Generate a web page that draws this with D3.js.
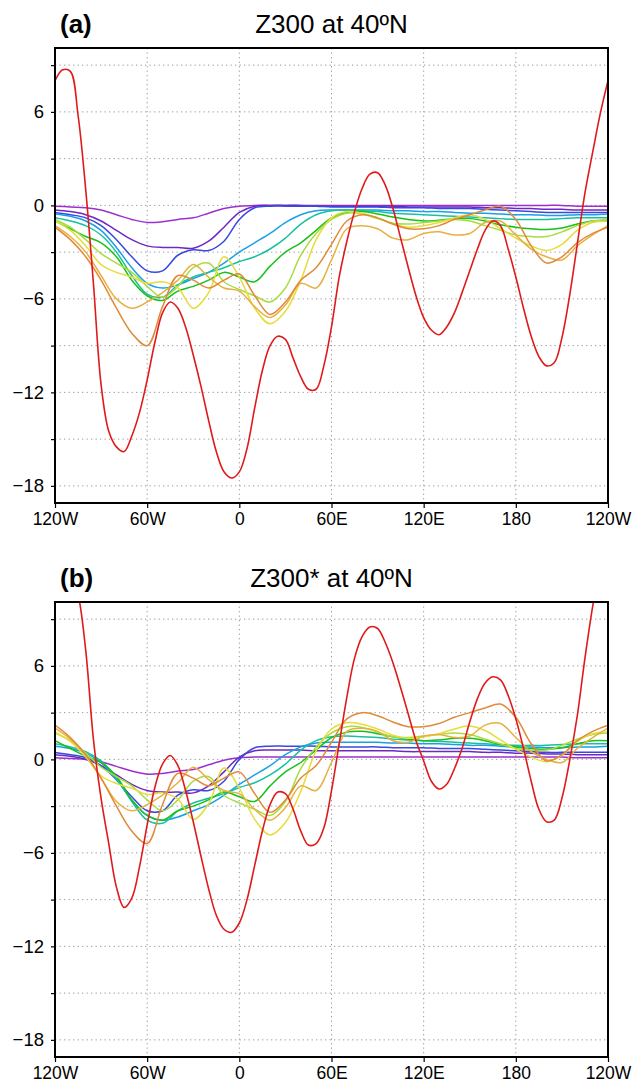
<!DOCTYPE html>
<html><head><meta charset="utf-8">
<script src="https://cdn.jsdelivr.net/npm/d3@7"></script>
<style>html,body{margin:0;padding:0;background:#fff;}svg{display:block;}</style>
</head><body>
<svg id="chart" width="634" height="1088"></svg>
<script>
// ---------------- DATA ----------------
const lon10 = d3.range(-120, 241, 10);   // 37 longitudes
const lon5  = d3.range(-120, 241, 5);    // 73 longitudes (red curve)
const xTickValues = [-120, -60, 0, 60, 120, 180, 240];
const xTickLabels = ["120W", "60W", "0", "60E", "120E", "180", "120W"];
const yTickValues = [-18, -12, -6, 0, 6];
const yTickLabels = ["−18", "−12", "−6", "0", "6"];
const panelLabels = ["(a)", "(b)"];
const panelTitles = ["Z300 at 40ºN", "Z300* at 40ºN"];
const seriesColors = ["#9b30d0", "#7028c4", "#3848e0", "#18a0e8", "#18c0a0", "#18c018", "#a8dc40", "#e6dc3c", "#e8b040", "#e08a38"];
const redColor = "#e01a1a";

// Panel (a): Z300
const a_purple = [-0.05,-0.1,-0.15,-0.3,-0.6,-0.9,-1.1,-1.05,-0.9,-0.8,-0.5,-0.2,-0.05,0,0,0,0,0,0,0,0,0,0,0,0,0,0,0,0,0,0,0,0,0,-0.05,-0.05,-0.05];
const a_violet = [-0.3,-0.4,-0.6,-1.0,-1.6,-2.2,-2.6,-2.7,-2.7,-2.75,-2.3,-1.4,-0.45,-0.05,0,0,0,-0.05,-0.05,-0.05,-0.05,-0.05,-0.05,-0.1,-0.1,-0.1,-0.1,-0.1,-0.15,-0.15,-0.2,-0.2,-0.25,-0.25,-0.3,-0.3,-0.3];
const a_blue   = [-0.45,-0.6,-0.8,-1.3,-2.2,-3.3,-4.2,-4.2,-3.2,-2.85,-2.9,-2.3,-0.9,-0.15,-0.05,-0.05,-0.05,-0.05,-0.1,-0.1,-0.1,-0.1,-0.15,-0.15,-0.15,-0.2,-0.2,-0.2,-0.25,-0.3,-0.35,-0.4,-0.45,-0.45,-0.45,-0.45,-0.45];
const a_sky    = [-0.55,-0.7,-1.0,-1.6,-2.7,-4.0,-5.0,-5.3,-5.1,-4.7,-4.3,-3.7,-3.0,-2.4,-1.8,-1.1,-0.6,-0.35,-0.3,-0.3,-0.3,-0.3,-0.35,-0.35,-0.4,-0.4,-0.45,-0.5,-0.5,-0.55,-0.6,-0.6,-0.65,-0.65,-0.6,-0.6,-0.55];
const a_teal   = [-0.8,-1.0,-1.3,-1.9,-3.0,-4.5,-5.7,-5.9,-5.1,-4.6,-4.3,-4.0,-3.6,-3.3,-2.8,-2.1,-1.2,-0.6,-0.35,-0.3,-0.35,-0.4,-0.5,-0.55,-0.6,-0.65,-0.7,-0.75,-0.8,-0.85,-0.9,-0.9,-0.9,-0.85,-0.8,-0.8,-0.8];
const a_green  = [-1.0,-1.5,-2.0,-2.4,-3.3,-4.8,-5.8,-6.1,-5.5,-5.2,-4.8,-4.3,-4.6,-4.9,-3.9,-3.0,-2.4,-1.6,-0.8,-0.45,-0.4,-0.55,-0.75,-0.9,-1.0,-0.95,-0.85,-0.85,-1.0,-1.25,-1.4,-1.5,-1.55,-1.45,-1.2,-1.0,-1.0];
const a_ygreen = [-0.9,-1.4,-2.2,-3.1,-3.7,-4.3,-5.2,-5.9,-5.2,-4.0,-3.7,-4.9,-5.4,-5.8,-6.2,-5.3,-3.2,-1.8,-0.9,-0.5,-0.55,-0.85,-1.15,-1.2,-1.1,-1.0,-0.9,-1.0,-1.3,-1.6,-1.9,-2.0,-2.0,-1.7,-1.3,-1.0,-0.9];
const a_yellow = [-1.0,-1.6,-2.6,-3.8,-4.3,-4.6,-5.0,-4.9,-5.3,-6.6,-5.6,-3.3,-4.6,-6.6,-7.6,-6.8,-4.8,-2.2,-0.8,-0.4,-0.5,-0.8,-1.2,-1.4,-1.3,-1.1,-0.8,-0.6,-0.9,-1.5,-2.1,-2.6,-2.9,-2.5,-1.6,-1.1,-1.0];
const a_gold   = [-1.3,-2.0,-3.0,-4.5,-6.0,-6.6,-6.2,-5.6,-4.8,-3.8,-4.6,-5.3,-5.5,-6.5,-7.2,-6.4,-5.0,-5.3,-3.5,-1.5,-1.3,-1.5,-2.1,-2.2,-1.8,-1.7,-1.9,-1.8,-1.1,-1.0,-1.9,-2.8,-3.3,-3.5,-2.6,-1.9,-1.3];
const a_orange = [-1.4,-2.2,-3.3,-4.8,-6.6,-8.2,-9.0,-6.5,-4.5,-4.8,-5.3,-4.8,-4.4,-5.8,-7.0,-6.2,-4.8,-4.0,-2.5,-1.0,-0.6,-0.8,-1.2,-1.5,-1.5,-1.3,-0.9,-0.6,-0.3,-0.05,-0.9,-2.6,-3.7,-3.3,-2.4,-1.8,-1.4];
const a_red = [8.0,8.7,8.6,5.8,1.0,-5.0,-11.5,-14.5,-15.5,-15.8,-14.8,-13.3,-11.2,-8.8,-6.9,-6.2,-6.6,-7.8,-9.6,-11.6,-13.8,-15.8,-17.1,-17.5,-17.1,-15.6,-13.0,-10.6,-9.0,-8.4,-8.6,-9.8,-11.0,-11.8,-11.8,-10.3,-7.8,-4.6,-2.3,-0.4,1.1,2.0,2.1,1.3,-0.2,-2.1,-4.0,-5.8,-7.2,-8.0,-8.3,-7.8,-6.9,-5.6,-4.2,-2.8,-1.6,-1.0,-1.3,-2.8,-4.6,-6.6,-8.4,-9.7,-10.3,-10.1,-8.5,-5.8,-2.5,0.8,3.4,5.9,8.0];

// Panel (b): Z300* (zonal deviation)
const b_purple = [0.1,0.05,0,-0.15,-0.45,-0.75,-0.95,-0.9,-0.75,-0.65,-0.35,-0.05,0.1,0.15,0.15,0.15,0.15,0.15,0.15,0.15,0.15,0.15,0.15,0.15,0.15,0.15,0.15,0.15,0.15,0.15,0.15,0.15,0.15,0.15,0.1,0.1,0.1];
const b_violet = [0.3,0.2,0,-0.4,-1.0,-1.6,-2.0,-2.1,-2.1,-2.15,-1.7,-0.8,0.15,0.55,0.6,0.6,0.6,0.55,0.55,0.55,0.55,0.55,0.55,0.5,0.5,0.5,0.5,0.5,0.45,0.45,0.4,0.4,0.35,0.35,0.3,0.3,0.3];
const b_blue   = [0.45,0.3,0.1,-0.4,-1.3,-2.4,-3.3,-3.3,-2.3,-1.95,-2.0,-1.4,0,0.75,0.85,0.85,0.85,0.85,0.8,0.8,0.8,0.8,0.75,0.75,0.75,0.7,0.7,0.7,0.65,0.6,0.55,0.5,0.45,0.45,0.45,0.45,0.45];
const b_sky    = [0.85,0.7,0.4,-0.2,-1.3,-2.6,-3.6,-3.9,-3.7,-3.3,-2.9,-2.3,-1.6,-1.0,-0.4,0.3,0.8,1.05,1.1,1.1,1.1,1.1,1.05,1.05,1.0,1.0,0.95,0.9,0.9,0.85,0.8,0.8,0.75,0.75,0.8,0.8,0.85];
const b_teal   = [1.0,0.8,0.5,-0.1,-1.2,-2.7,-3.9,-4.1,-3.3,-2.8,-2.5,-2.2,-1.8,-1.5,-1.0,-0.3,0.6,1.2,1.45,1.5,1.45,1.4,1.3,1.25,1.2,1.15,1.1,1.05,1.0,0.95,0.9,0.9,0.9,0.95,1.0,1.0,1.0];
const b_green  = [1.2,0.7,0.2,-0.2,-1.1,-2.6,-3.6,-3.9,-3.3,-3.0,-2.6,-2.1,-2.4,-2.7,-1.7,-0.8,-0.2,0.6,1.4,1.75,1.8,1.65,1.45,1.3,1.2,1.25,1.35,1.35,1.2,0.95,0.8,0.7,0.65,0.75,1.0,1.2,1.2];
const b_ygreen = [1.7,1.2,0.4,-0.5,-1.1,-1.7,-2.6,-3.3,-2.6,-1.4,-1.1,-2.3,-2.8,-3.2,-3.6,-2.7,-0.6,0.8,1.7,2.1,2.05,1.75,1.45,1.4,1.5,1.6,1.7,1.6,1.3,1.0,0.7,0.6,0.6,0.9,1.3,1.6,1.7];
const b_yellow = [1.75,1.15,0.15,-1.05,-1.55,-1.85,-2.25,-2.15,-2.55,-3.85,-2.85,-0.55,-1.85,-3.85,-4.85,-4.05,-2.05,0.55,1.95,2.35,2.25,1.95,1.55,1.35,1.45,1.65,1.95,2.15,1.85,1.25,0.65,0.15,-0.15,0.25,1.15,1.65,1.75];
const b_gold   = [2.0,1.3,0.3,-1.2,-2.7,-3.3,-2.9,-2.3,-1.5,-0.5,-1.3,-2.0,-2.2,-3.2,-3.9,-3.1,-1.7,-2.0,-0.2,1.8,2.0,1.8,1.2,1.1,1.5,1.6,1.4,1.5,2.2,2.3,1.4,0.5,0,-0.2,0.7,1.4,2.0];
const b_orange = [2.2,1.4,0.3,-1.2,-3.0,-4.6,-5.4,-2.9,-0.9,-1.2,-1.7,-1.2,-0.8,-2.2,-3.4,-2.6,-1.2,-0.4,1.1,2.6,3.0,2.8,2.4,2.1,2.1,2.3,2.7,3.0,3.3,3.55,2.7,1.0,-0.1,0.3,1.2,1.8,2.2];
const b_red = [14.5,13.5,12.0,10.6,7.0,1.3,-2.5,-5.4,-8.2,-9.5,-8.9,-6.9,-4.2,-1.8,-0.3,0.25,-0.4,-2.0,-4.0,-6.2,-8.3,-10.0,-10.9,-11.1,-10.5,-9.0,-6.8,-4.6,-2.9,-2.1,-2.2,-3.2,-4.6,-5.5,-5.4,-4.4,-2.0,1.0,4.0,6.5,7.9,8.5,8.4,7.5,6.2,4.6,2.9,1.2,-0.1,-1.4,-1.9,-1.6,-0.6,0.7,2.4,3.9,4.9,5.3,5.1,4.1,2.6,0.7,-1.4,-3.2,-4.0,-3.9,-2.5,-0.1,2.8,6.5,9.8,12.5,14.5];

const panelA = [a_purple, a_violet, a_blue, a_sky, a_teal, a_green, a_ygreen, a_yellow, a_gold, a_orange];
const panelB = [b_purple, b_violet, b_blue, b_sky, b_teal, b_green, b_ygreen, b_yellow, b_gold, b_orange];

// ---------------- LAYOUT ----------------
const svg = d3.select("#chart");
const left = 55, right = 608, plotH = 455;
const panels = [
  {top: 48, series: panelA, red: a_red, label: panelLabels[0], title: panelTitles[0]},
  {top: 602, series: panelB, red: b_red, label: panelLabels[1], title: panelTitles[1]}
];
const x = d3.scaleLinear().domain([-120, 240]).range([left, right]);
const font = "'Liberation Sans', Arial, Helvetica, sans-serif";

panels.forEach((p, pi) => {
  const y = d3.scaleLinear().domain([-19.1, 10.1]).range([p.top + plotH, p.top]);
  const g = svg.append("g");
  const clipId = "clip" + pi;
  svg.append("clipPath").attr("id", clipId).append("rect")
    .attr("x", left).attr("y", p.top).attr("width", right - left).attr("height", plotH);

  // grid
  const hGrid = d3.range(-18, 10, 3);
  g.selectAll(".hg").data(hGrid).join("line")
    .attr("x1", left).attr("x2", right).attr("y1", d => y(d)).attr("y2", d => y(d))
    .attr("stroke", "#9a9a9a").attr("stroke-width", 1).attr("stroke-dasharray", "1.3,3.2");
  const vGrid = [-60, 0, 60, 120, 180];
  g.selectAll(".vg").data(vGrid).join("line")
    .attr("y1", p.top).attr("y2", p.top + plotH).attr("x1", d => x(d)).attr("x2", d => x(d))
    .attr("stroke", "#9a9a9a").attr("stroke-width", 1).attr("stroke-dasharray", "1.3,3.2");

  // lines
  const lineGen = (lons) => d3.line().x((d, i) => x(lons[i])).y(d => y(d)).curve(d3.curveCatmullRom.alpha(0.5));
  const lg = g.append("g").attr("clip-path", `url(#${clipId})`);
  p.series.forEach((s, si) => {
    lg.append("path").attr("d", lineGen(lon10)(s))
      .attr("fill", "none").attr("stroke", seriesColors[si]).attr("stroke-width", 1.5);
  });
  lg.append("path").attr("d", lineGen(lon5)(p.red))
    .attr("fill", "none").attr("stroke", redColor).attr("stroke-width", 1.6);

  // axes
  const yAxis = d3.axisLeft(y).tickValues(d3.range(-18, 10, 3)).tickSize(4)
    .tickFormat(d => { const k = yTickValues.indexOf(d); return k >= 0 ? yTickLabels[k] : ""; });
  const ya = g.append("g").attr("transform", `translate(${left},0)`).call(yAxis);
  ya.select(".domain").remove();
  ya.selectAll(".tick line").attr("stroke", "#000").attr("stroke-width", 1.2);
  ya.selectAll(".tick text").attr("font-family", font).attr("font-size", 18.5).attr("fill", "#000").attr("x", -11);

  const xAxis = d3.axisBottom(x).tickValues(xTickValues).tickSize(5)
    .tickFormat((d, i) => xTickLabels[i]);
  const xa = g.append("g").attr("transform", `translate(0,${p.top + plotH})`).call(xAxis);
  xa.select(".domain").remove();
  xa.selectAll(".tick line").attr("stroke", "#000").attr("stroke-width", 1.2);
  xa.selectAll(".tick text").attr("font-family", font).attr("font-size", 17.5).attr("fill", "#000").attr("y", 10);

  // frame
  g.append("rect").attr("x", left).attr("y", p.top).attr("width", right - left).attr("height", plotH)
    .attr("fill", "none").attr("stroke", "#000").attr("stroke-width", 2);

  // titles
  svg.append("text").attr("x", 60).attr("y", p.top - 15).text(p.label)
    .attr("font-family", font).attr("font-size", 26).attr("font-weight", "bold");
  svg.append("text").attr("x", (left + right) / 2).attr("y", p.top - 15).text(p.title)
    .attr("text-anchor", "middle").attr("font-family", font).attr("font-size", 26);
});
</script>
</body></html>
